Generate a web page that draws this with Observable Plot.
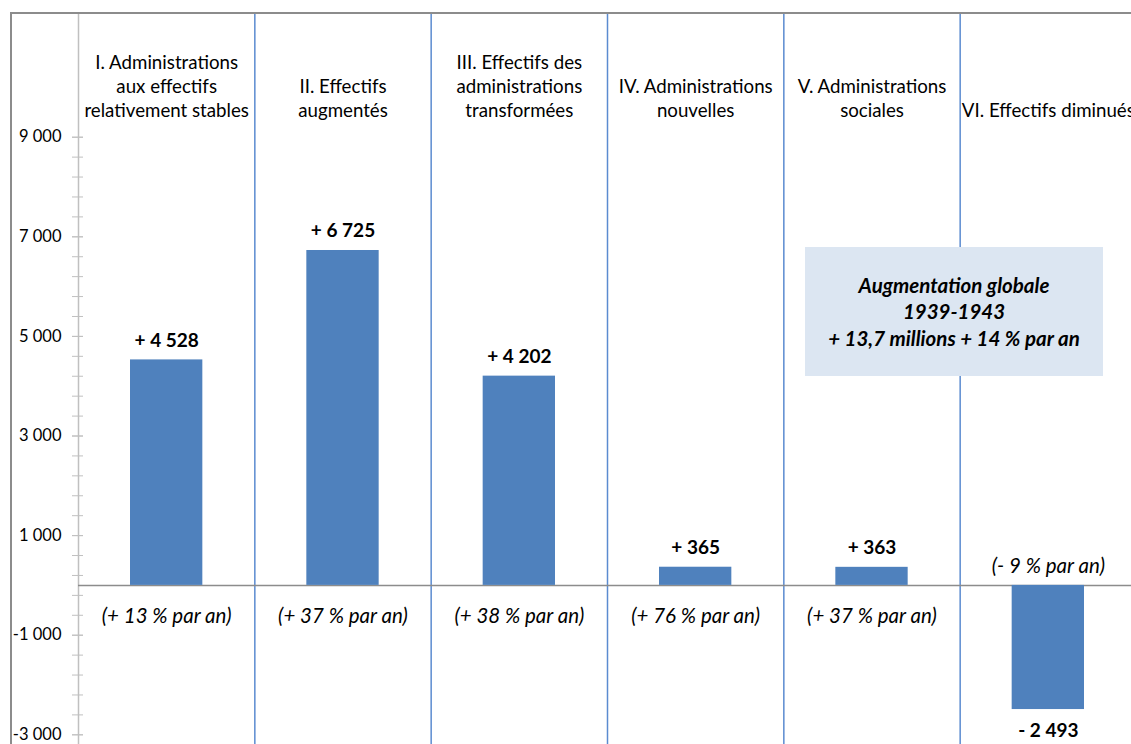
<!DOCTYPE html>
<html><head><meta charset="utf-8">
<script src="https://cdn.jsdelivr.net/npm/d3@7"></script>
<script src="https://cdn.jsdelivr.net/npm/@observablehq/plot@0.6"></script>
<style>
html,body{margin:0;padding:0;overflow:hidden;background:#fff;}
#wrap{position:relative;width:1131px;height:744px;overflow:hidden;background:#fff;}
#wrap svg{position:absolute;left:0;top:0;}
#border{position:absolute;left:10px;top:12px;width:1300px;height:900px;border-left:2px solid #8c8c8c;border-top:2px solid #8c8c8c;pointer-events:none;}
#note{position:absolute;left:805px;top:247px;width:298px;height:129px;background:#dce6f2;display:flex;flex-direction:column;align-items:center;justify-content:center;text-align:center;font-family:Lato,sans-serif;font-style:italic;font-weight:bold;font-size:20.5px;line-height:26.5px;color:#000;}
</style></head><body><div id="wrap"></div>
<script>
// ---- data ----
const categories = [
  "I. Administrations\naux effectifs\nrelativement stables",
  "II. Effectifs\naugmentés",
  "III. Effectifs des\nadministrations\ntransformées",
  "IV. Administrations\nnouvelles",
  "V. Administrations\nsociales",
  "VI. Effectifs diminués"
];
const values = [4528, 6725, 4202, 365, 363, -2493];
const ratesPerYear = [13, 37, 38, 76, 37, -9];
const yMajorTicks = [9000, 7000, 5000, 3000, 1000, -1000, -3000];
const yMinorStep = 400;
const noteLines = ["Augmentation globale", "1939-1943", "+ 13,7 millions + 14 % par an"];

// ---- helpers ----
const fmt = d3.formatLocale({decimal: ",", thousands: "\u00a0", grouping: [3], currency: ["", ""], minus: "-"}).format(",d");
const signed = v => (v < 0 ? "- " : "+ ") + fmt(Math.abs(v));
const rateLabel = r => `(${r < 0 ? "-" : "+"} ${Math.abs(r)} % par an)`;
const rows = categories.map((c, i) => ({i, c, v: values[i], r: ratesPerYear[i]}));
const pos = rows.filter(d => d.v >= 0);
const neg = rows.filter(d => d.v < 0);
const minorTicks = d3.range(yMajorTicks[yMajorTicks.length - 1], yMajorTicks[0] + 1, yMinorStep);
const cx = d => d.i + 0.5;

const plot = Plot.plot({
  width: 1131, height: 744,
  marginTop: 13, marginBottom: 0, marginLeft: 83, marginRight: 0,
  x: {domain: [0, categories.length], range: [78, 1136], axis: null},
  y: {domain: [-3000, 9000], range: [734.3, 136.7], axis: null},
  style: {fontFamily: "Lato, sans-serif", background: "transparent", overflow: "visible", color: "#000"},
  marks: [
    Plot.ruleX(d3.range(1, categories.length), {stroke: "#5b8bd0", strokeWidth: 1.5}),
    Plot.ruleX([0], {stroke: "#c0c0c0", strokeWidth: 1.5}),
    Plot.axisY(minorTicks, {anchor: "left", label: null, tickSize: 11, tickFormat: () => "", stroke: "#c0c0c0"}),
    Plot.axisY(yMajorTicks, {anchor: "left", label: null, tickSize: 11, tickPadding: 11, tickFormat: fmt, stroke: "#c0c0c0", fill: "#000", fontSize: 16.5}),
    Plot.ruleY([0], {x1: 0, x2: categories.length, stroke: "#8c8c8c", strokeWidth: 1.5}),
    Plot.rectY(rows, {x1: "i", x2: d => d.i + 1, y: "v", insetLeft: 52, insetRight: 52, fill: "#4f81bd"}),
    Plot.text(pos, {x: cx, y: "v", text: d => signed(d.v), lineAnchor: "bottom", dy: -13, fontWeight: "bold", fontSize: 19, fill: "#000"}),
    Plot.text(neg, {x: cx, y: "v", text: d => signed(d.v), lineAnchor: "top", dy: 14, fontWeight: "bold", fontSize: 19, fill: "#000"}),
    Plot.text(pos, {x: cx, y: 0, text: d => rateLabel(d.r), lineAnchor: "middle", dy: 31, fontStyle: "italic", fontSize: 20.5, fill: "#000"}),
    Plot.text(neg, {x: cx, y: 0, text: d => rateLabel(d.r), lineAnchor: "middle", dy: -19, fontStyle: "italic", fontSize: 20.5, fill: "#000"}),
    Plot.text(rows, {x: cx, text: "c", frameAnchor: "top", lineAnchor: "bottom", dy: 103, fontSize: 18.7, lineHeight: 24 / 18.7, fill: "#000"})
  ]
});
const wrap = document.getElementById("wrap");
wrap.appendChild(plot);
const border = document.createElement("div");
border.id = "border";
wrap.appendChild(border);
const note = document.createElement("div");
note.id = "note";
noteLines.forEach(t => { const s = document.createElement("div"); s.textContent = t; note.appendChild(s); });
wrap.appendChild(note);
</script></body></html>
